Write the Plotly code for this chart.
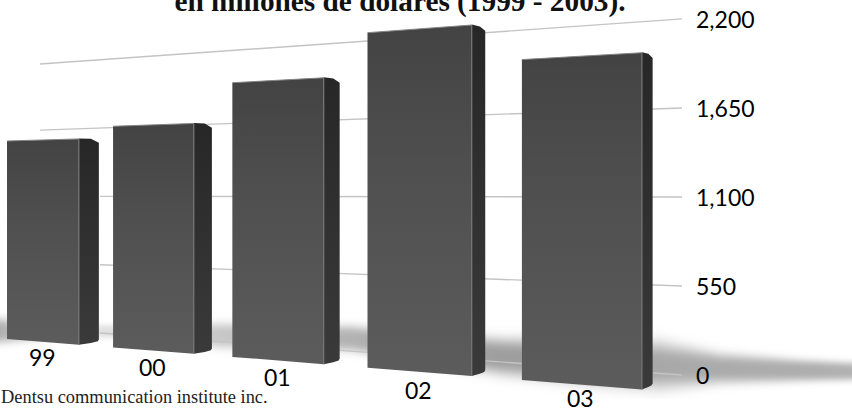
import plotly.graph_objects as go
import numpy as np

# ---- data ----
years = ["99", "00", "01", "02", "03"]
values = [1525, 1610, 1880, 2155, 1925]
axis_ticks = [0, 550, 1100, 1650, 2200]
axis_labels = ["0", "550", "1,100", "1,650", "2,200"]
title_text = "<b>en millones de dolares (1999 - 2003).</b>"
source_text = "Dentsu communication institute inc."

# soft floor shadow stations: x, centre y, half height, darkness
shadow_x = [-20, 60, 110, 220, 350, 500, 600, 660, 720, 800, 860]
shadow_c = [330, 331, 331, 335, 338, 356, 362, 365, 368, 370, 371]
shadow_h = [14, 8, 7, 13, 13, 18, 22, 23, 15, 11, 9]
shadow_d = [.38, .1, .12, .22, .3, .38, .38, .34, .33, .32, .3]

# ---- perspective scale: category slot + value -> page axis units ----
VPX = -1800.0
BAR_W = 0.69
LABEL_DY = (15, 16, 16.5, 18.5, 13.5)


def px(u):
    return VPX + 1 / (5.534e-4 - 0.3068e-4 * u)


def front(u, v):
    x = px(u)
    return x, 338.4 + 0.0796 * x - v / 2200 * 0.1564 * (x + 1819)


def wall(x, v):
    return 325.8 + 0.0722 * x - v / 2200 * 0.1424 * (x + 1819)


def back(p, t=0.0165):
    return p[0] + (1290 - p[0]) * t, p[1] + (195 - p[1]) * t


fig = go.Figure()

# shadow
gx = np.arange(-20, 861, 10)
gy = np.arange(300, 400, 2)
cc = np.interp(gx, shadow_x, shadow_c)
hh = np.interp(gx, shadow_x, shadow_h)
dd = np.interp(gx, shadow_x, shadow_d)
z = [[float(d * np.exp(-(abs((y - c) / h) ** 3))) for c, h, d in zip(cc, hh, dd)] for y in gy]
fig.add_trace(go.Heatmap(x=gx, y=gy, z=z, zmin=0, zmax=1, zsmooth="best", showscale=False,
                         colorscale=[[0, "#ffffff"], [1, "#000000"]], hoverinfo="skip"))

# gridlines on the back wall
for v in axis_ticks:
    x0 = 40 if v > 1100 else 100
    xs = [x0, 682]
    fig.add_trace(go.Scatter(x=xs, y=[wall(x, v) for x in xs], mode="lines",
                             line=dict(color="#c4c4c4", width=1.4), hoverinfo="skip", showlegend=False))
    fig.add_annotation(x=694, y=wall(682, v), text=axis_labels[axis_ticks.index(v)], showarrow=False,
                       xanchor="left", yanchor="middle",
                       font=dict(family="Lato", size=23, color="#000000"))

# bars
for i, (yr, v) in enumerate(zip(years, values)):
    tl, tr = front(i, v), front(i + BAR_W, v)
    bl, br = front(i, 0), front(i + BAR_W, 0)
    btr, bbr = back(tr), back(br)
    # side face with chamfered outer corners
    sx = [tr[0], tr[0] + (btr[0] - tr[0]) * .6, btr[0], btr[0], btr[0] - 1,
          br[0] + (bbr[0] - br[0]) * .6, br[0], tr[0]]
    sy = [tr[1] - .5, btr[1] - 1.2, btr[1] + 3, bbr[1] - 3, bbr[1] - 1, bbr[1] + .8, br[1], tr[1] - .5]
    fig.add_trace(go.Scatter(x=sx, y=sy, mode="lines", fill="toself", line=dict(width=0),
                             fillgradient=dict(type="vertical",
                                               colorscale=[[0, "#3a3a3a"], [1, "#272727"]]),
                             hoverinfo="skip", showlegend=False))
    # front face
    fig.add_trace(go.Scatter(x=[tl[0], tr[0], br[0], bl[0], tl[0]], y=[tl[1], tr[1], br[1], bl[1], tl[1]],
                             mode="lines", fill="toself", line=dict(width=0), name=yr,
                             fillgradient=dict(type="vertical",
                                               colorscale=[[0, "#5c5c5c"], [.6, "#4f4f4f"], [1, "#434343"]]),
                             hoverinfo="skip", showlegend=False))
    # bevel highlights
    fig.add_trace(go.Scatter(x=[tl[0], tr[0]], y=[tl[1], tr[1]], mode="lines",
                             line=dict(color="#858585", width=1), hoverinfo="skip", showlegend=False))
    fig.add_trace(go.Scatter(x=[tr[0], br[0]], y=[tr[1], br[1]], mode="lines",
                             line=dict(color="#747474", width=1.2), hoverinfo="skip", showlegend=False))
    # category label
    cx, cy = front(i + BAR_W / 2, 0)
    fig.add_annotation(x=cx, y=cy + LABEL_DY[i], text=yr, showarrow=False, xanchor="center", yanchor="middle",
                       font=dict(family="Lato", size=23, color="#000000"))

fig.add_annotation(x=0, xshift=-1, y=397, text=source_text, showarrow=False, xanchor="left", yanchor="middle",
                   font=dict(family="Liberation Serif", size=18.4, color="#222222"))

fig.update_layout(
    width=852, height=409, margin=dict(l=0, r=0, t=0, b=0),
    paper_bgcolor="white", plot_bgcolor="white", showlegend=False,
    title=dict(text=title_text, x=400 / 852, xanchor="center", y=0.997, yanchor="middle", yref="container",
               font=dict(family="Liberation Serif", size=29.3, color="#111111")),
    xaxis=dict(range=[0, 852], visible=False, fixedrange=True),
    yaxis=dict(range=[409, 0], visible=False, fixedrange=True),
)
fig.write_html("out.html", config={"displayModeBar": False},
               post_script="document.body.style.margin='0';document.documentElement.style.overflow='hidden';")
